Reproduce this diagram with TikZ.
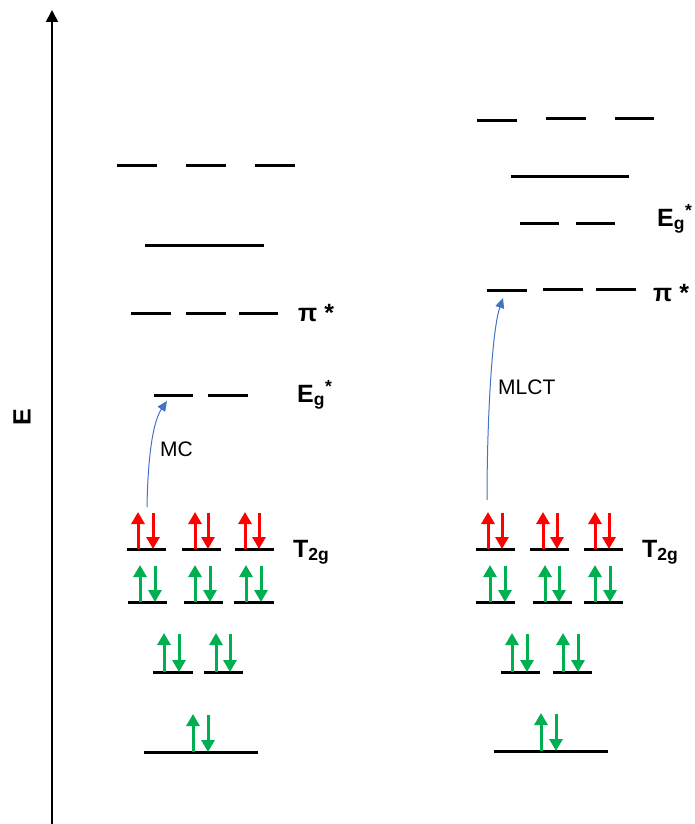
\documentclass[tikz,border=0pt]{standalone}
\usepackage{fontspec}
\setmainfont{Liberation Sans}
\usetikzlibrary{arrows.meta}

\definecolor{spinred}{RGB}{255,0,0}
\definecolor{spingreen}{RGB}{0,176,80}
\definecolor{exciteblue}{RGB}{68,114,196}

\tikzset{
  orbital/.style={line width=3pt},
  spin/.style={line width=3pt, -{Triangle[width=13pt,length=12pt]}},
  excite/.style={exciteblue, line width=1pt, -{Triangle[width=9pt,length=10pt]}},
  lbl/.style={inner sep=0pt, anchor=base west, font=\fontsize{25}{28}\selectfont\bfseries},
  tlbl/.style={inner sep=0pt, anchor=base west, font=\fontsize{21}{24}\selectfont}
}

\begin{document}
\begin{tikzpicture}[x=1pt, y=-1pt]
  \useasboundingbox (0,0) rectangle (694,824);

  % Energy axis
  \coordinate (origin) at (52,824);
  \coordinate (etop) at (52,10);
  \draw[line width=1.8pt, -{Triangle[width=12pt,length=12pt]}] (origin) -- (etop);
  \node[inner sep=0pt, rotate=90, font=\fontsize{25}{28}\selectfont\bfseries] (energy) at (22,417) {E};

  % Left complex: orbitals
  \draw[orbital] (117,165) -- (157,165) (186,165) -- (226,165) (255,165) -- (295,165);
  \draw[orbital] (145,245) -- (264,245);
  \draw[orbital] (131,313) -- (171,313) (186,313) -- (226,313) (239,313) -- (278,313);
  \draw[orbital] (154,395) -- (193,395) (208,395) -- (248,395);
  \draw[orbital] (127,549) -- (166,549) (182,549) -- (221,549) (235,549) -- (274,549);
  \draw[orbital] (128,602) -- (167,602) (184,602) -- (223,602) (234,602) -- (274,602);
  \draw[orbital] (153,672) -- (193,672) (204,672) -- (243,672);
  \draw[orbital] (144,752) -- (258,752);

  % Left complex: electrons
  \draw[spin, spinred] (138,549) -- (138,512);
  \draw[spin, spinred] (153,513) -- (153,549);
  \draw[spin, spinred] (195,549) -- (195,512);
  \draw[spin, spinred] (208,513) -- (208,549);
  \draw[spin, spinred] (245,549) -- (245,512);
  \draw[spin, spinred] (259,513) -- (259,549);
  \draw[spin, spingreen] (140,602) -- (140,565);
  \draw[spin, spingreen] (155,566) -- (155,602);
  \draw[spin, spingreen] (195,602) -- (195,565);
  \draw[spin, spingreen] (210,566) -- (210,602);
  \draw[spin, spingreen] (246,602) -- (246,565);
  \draw[spin, spingreen] (261,566) -- (261,602);
  \draw[spin, spingreen] (164,672) -- (164,633);
  \draw[spin, spingreen] (179,634) -- (179,672);
  \draw[spin, spingreen] (216,672) -- (216,633);
  \draw[spin, spingreen] (230,634) -- (230,672);
  \draw[spin, spingreen] (193,752) -- (193,714);
  \draw[spin, spingreen] (208,715) -- (208,752);

  % Left complex: labels and MC transition
  \node[lbl] (piL) at (298,321) {π *};
  \node[lbl] (egL) at (297,402) {E\textsubscript{g}\textsuperscript{*}};
  \node[lbl] (t2gL) at (293,557) {T\textsubscript{2g}};
  \node[tlbl] (mc) at (160,456) {MC};
  \coordinate (mcfrom) at (147,507);
  \coordinate (mcto) at (167,401);
  \draw[excite] (mcfrom) .. controls (148,450) and (154,420) .. (mcto);

  % Right complex: orbitals
  \draw[orbital] (477,121) -- (517,121) (546,119) -- (586,119) (615,119) -- (654,119);
  \draw[orbital] (511,176) -- (629,176);
  \draw[orbital] (520,223) -- (559,223) (576,223) -- (615,223);
  \draw[orbital] (487,290) -- (527,290) (543,289) -- (583,289) (596,289) -- (636,289);
  \draw[orbital] (476,549) -- (515,549) (530,549) -- (569,549) (584,549) -- (623,549);
  \draw[orbital] (476,602) -- (515,602) (533,602) -- (572,602) (584,602) -- (623,602);
  \draw[orbital] (501,672) -- (540,672) (553,672) -- (592,672);
  \draw[orbital] (494,751) -- (608,751);

  % Right complex: electrons
  \draw[spin, spinred] (488,549) -- (488,512);
  \draw[spin, spinred] (502,513) -- (502,549);
  \draw[spin, spinred] (543,549) -- (543,512);
  \draw[spin, spinred] (557,513) -- (557,549);
  \draw[spin, spinred] (595,549) -- (595,512);
  \draw[spin, spinred] (609,513) -- (609,549);
  \draw[spin, spingreen] (490,602) -- (490,565);
  \draw[spin, spingreen] (505,566) -- (505,602);
  \draw[spin, spingreen] (545,602) -- (545,565);
  \draw[spin, spingreen] (559,566) -- (559,602);
  \draw[spin, spingreen] (595,602) -- (595,565);
  \draw[spin, spingreen] (610,566) -- (610,602);
  \draw[spin, spingreen] (512,672) -- (512,633);
  \draw[spin, spingreen] (527,634) -- (527,672);
  \draw[spin, spingreen] (563,672) -- (563,633);
  \draw[spin, spingreen] (578,634) -- (578,672);
  \draw[spin, spingreen] (541,751) -- (541,713);
  \draw[spin, spingreen] (556,714) -- (556,751);

  % Right complex: labels and MLCT transition
  \node[lbl] (egR) at (657,226) {E\textsubscript{g}\textsuperscript{*}};
  \node[lbl] (piR) at (653,301) {π *};
  \node[lbl] (t2gR) at (642,557) {T\textsubscript{2g}};
  \node[tlbl] (mlct) at (498,394) {MLCT};
  \coordinate (mlctfrom) at (487,500);
  \coordinate (mlctto) at (503,298);
  \draw[excite] (mlctfrom) .. controls (487,420) and (492,330) .. (mlctto);
\end{tikzpicture}
\end{document}
